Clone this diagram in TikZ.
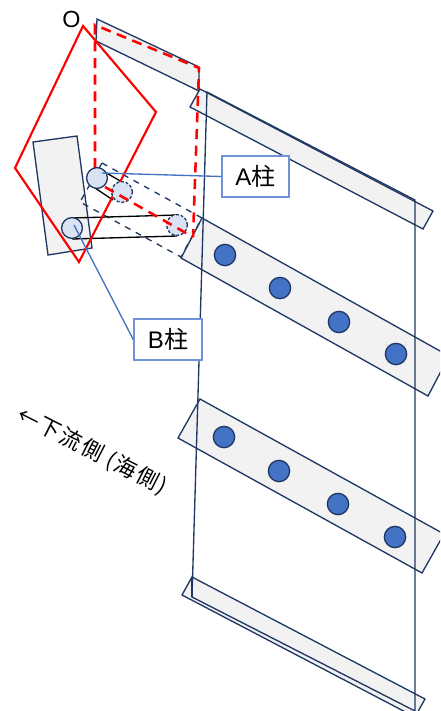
\documentclass[tikz,border=0pt]{standalone}
\usepackage{fontspec}
\setmainfont{Liberation Sans}
\newfontfamily\cjk{Noto Sans CJK JP}
\newfontfamily\cjkwide[LetterSpace=8]{Noto Sans CJK JP}
\definecolor{navy}{HTML}{203864}
\definecolor{barfill}{HTML}{F2F2F2}
\definecolor{lightc}{HTML}{DAE3F3}
\definecolor{bluec}{HTML}{4472C4}
\definecolor{boxc}{HTML}{6F93D6}
\tikzset{
  bar/.style={draw=navy,fill=barfill,line width=1pt,line join=miter},
  frameline/.style={draw=navy,line width=1pt},
  dot/.style={circle,draw=navy,fill=bluec,line width=1pt,minimum size=16pt,inner sep=0pt},
  post/.style={circle,draw=navy,fill=lightc,line width=1pt,minimum size=15.6pt,inner sep=0pt},
  ghost/.style={post,dash pattern=on 2.2pt off 1.4pt},
  redsolid/.style={draw=red,line width=1.6pt,line join=miter},
  reddash/.style={draw=red,line width=1.9pt,dash pattern=on 7.5pt off 5pt},
  navydash/.style={draw=navy,line width=1pt,dash pattern=on 4.5pt off 4.5pt},
  belt/.style={draw=black,line width=1pt},
  leader/.style={draw=bluec,line width=1pt},
  tag/.style={draw=boxc,fill=white,line width=1.1pt,inner sep=0pt,font=\fontsize{18}{18}\selectfont,text=black},
}
\begin{document}
\begin{tikzpicture}[x=0.75pt,y=-0.75pt]
\useasboundingbox (0,0) rectangle (440,711);
\begin{scope}
\clip (0,0) rectangle (440,711);
% bars
\draw[bar] (97,19) -- (199,67) -- (199,91) -- (96,41) -- cycle;
\draw[bar] (200,89) -- (433,211) -- (423,229) -- (190,107) -- cycle;
\draw[bar] (202,218) -- (449,356) -- (428,396) -- (181,258) -- cycle;
\draw[bar] (200,399) -- (444,534) -- (422,573) -- (178,438) -- cycle;
\draw[bar] (192,577) -- (425,699) -- (415,717) -- (182,595) -- cycle;
% frame
\draw[frameline] (207,92) -- (415,200) -- (415,711) -- (192,597) -- cycle;
\draw[frameline] (192,577) -- (192,597);
% left plate
\draw[bar] (33,142) -- (77,136) -- (92,248) -- (48,255) -- cycle;
% dots
\foreach \n/\x/\y in {a/225/255,b/280/288,c/339/322,d/396/354,e/224/437,f/279/471,g/338/504,h/395/537}
  \node[dot] (dot\n) at (\x,\y) {};
% dashed envelope
\draw[navydash] (102,163) -- (202,218) -- (181,257) -- (80,202) -- cycle;
% belts
\draw[belt] (98,168) -- (122,182);
\draw[belt] (95,188) -- (113,200);
\draw[belt] (72,218) -- (177,215);
\draw[belt] (72,239) -- (177,236);
% red
\draw[redsolid] (83,26) -- (156,112) -- (79,262) -- (15,168) -- cycle;
\draw[reddash] (95,168) -- (95,25) -- (199,68) -- (193,237);
\node[ghost] (ga) at (122,192) {};
\node[ghost] (gb) at (177,225) {};
\node[post] (pa) at (97,178) {};
\node[post] (pb) at (72,228) {};
\draw[reddash] (105,187) -- (193,237);
% labels
\node[tag,minimum width=50.25pt,minimum height=30.75pt] (atag) at (255.5,176.5) {A{\cjk 柱}};
\node[tag,minimum width=51pt,minimum height=30.75pt] (btag) at (168,339.5) {B{\cjk 柱}};
\coordinate (aend) at (102,173);
\coordinate (bend) at (74,225);
\draw[leader] (aend) -- (atag.west);
\draw[leader] (bend) -- (btag.west);
\node[text=black,font=\fontsize{17.5}{18}\selectfont] (olabel) at (71.5,19) {O};
\node[rotate=-27,text=black,font=\cjkwide\fontsize{16.5}{17}\selectfont,inner sep=0pt] (flow) at (92,451) {←下流側 (海側)};
\end{scope}
\end{tikzpicture}
\end{document}
